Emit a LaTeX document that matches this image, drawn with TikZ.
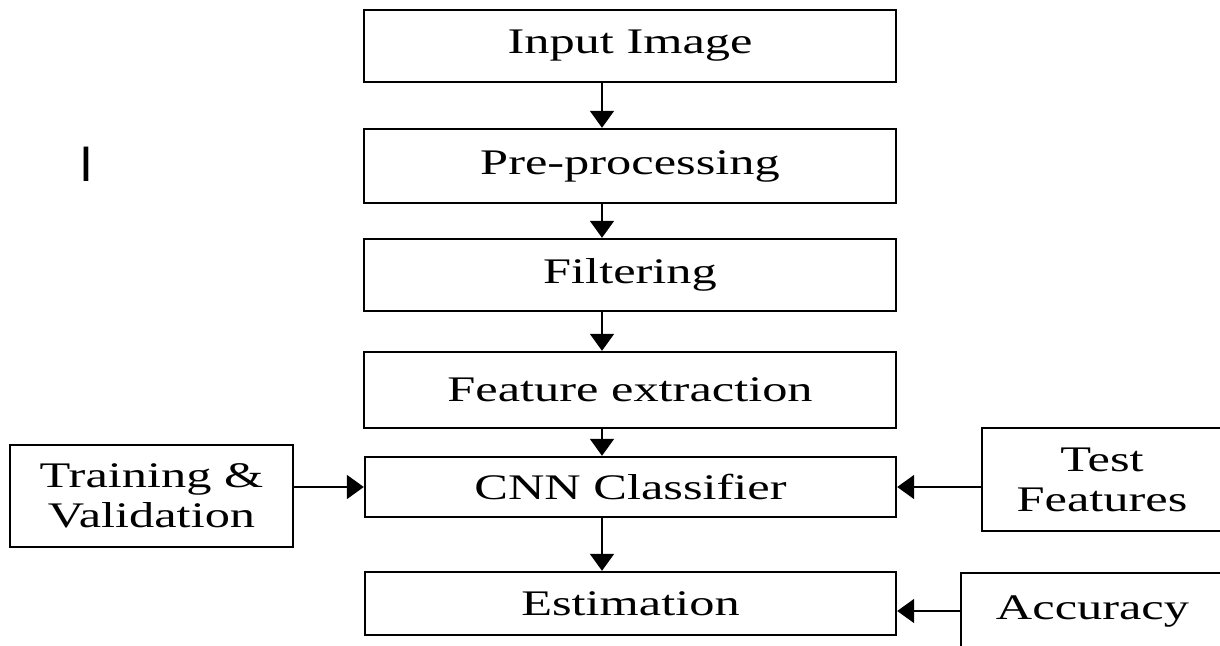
\documentclass[tikz,border=0pt]{standalone}
\usepackage{fontspec}
\setmainfont{Liberation Serif}[FakeStretch=1.4]
\setsansfont{Liberation Sans}
\usepackage{tikz}
\usetikzlibrary{arrows.meta}

\begin{document}
\begin{tikzpicture}[x=0.5pt,y=-0.5pt,
		stage/.style={draw,line width=1.2pt,inner sep=0pt,align=center,
			font=\fontsize{18pt}{20pt}\selectfont},
		arr/.style={line width=1pt,-{Triangle[width=12pt,length=8.5pt]}}]
				\clip (0,0) rectangle (1220,646);
				\fill[white] (0,0) rectangle (1220,646);
				\node[font=\sffamily\fontsize{25pt}{25pt}\selectfont] (mark) at (86,164) {I};
				\node[stage,minimum width=266pt,minimum height=36pt] (in) at (630,46) {Input Image};
				\node[stage,minimum width=266pt,minimum height=37pt] (pre) at (630,166) {Pre-processing};
				\node[stage,minimum width=266pt,minimum height=36pt] (filt) at (630,275) {Filtering};
				\node[stage,minimum width=266pt,minimum height=38pt] (feat) at (630,390) {Feature extraction};
				\node[stage,minimum width=265.5pt,minimum height=30pt] (cnn) at (630.5,487) {CNN Classifier};
				\node[stage,minimum width=265.5pt,minimum height=31.5pt] (est) at (630.5,603.5) {Estimation};
				\node[stage,minimum width=141.5pt,minimum height=51pt] (train) at (151.5,496) {Training \&\\Validation};
				\node[stage,minimum width=120pt,minimum height=51.5pt] (test) at (1102,479.5) {Test\\Features};
				\node[stage,minimum width=131.5pt,minimum height=38pt] (acc) at (1092.5,611) {Accuracy};
				\coordinate (axis) at (602,0);
				\draw[arr] (in.south -| axis) -- (pre.north -| axis);
				\draw[arr] (pre.south -| axis) -- (filt.north -| axis);
				\draw[arr] (filt.south -| axis) -- (feat.north -| axis);
				\draw[arr] (feat.south -| axis) -- (cnn.north -| axis);
				\draw[arr] (cnn.south -| axis) -- (est.north -| axis);
				\draw[arr] (train.east |- cnn.west) -- (cnn.west);
				\draw[arr] (test.west |- cnn.east) -- (cnn.east);
				\draw[arr] (acc.west) -- (acc.west -| est.east);
			\end{tikzpicture}
\end{document}
